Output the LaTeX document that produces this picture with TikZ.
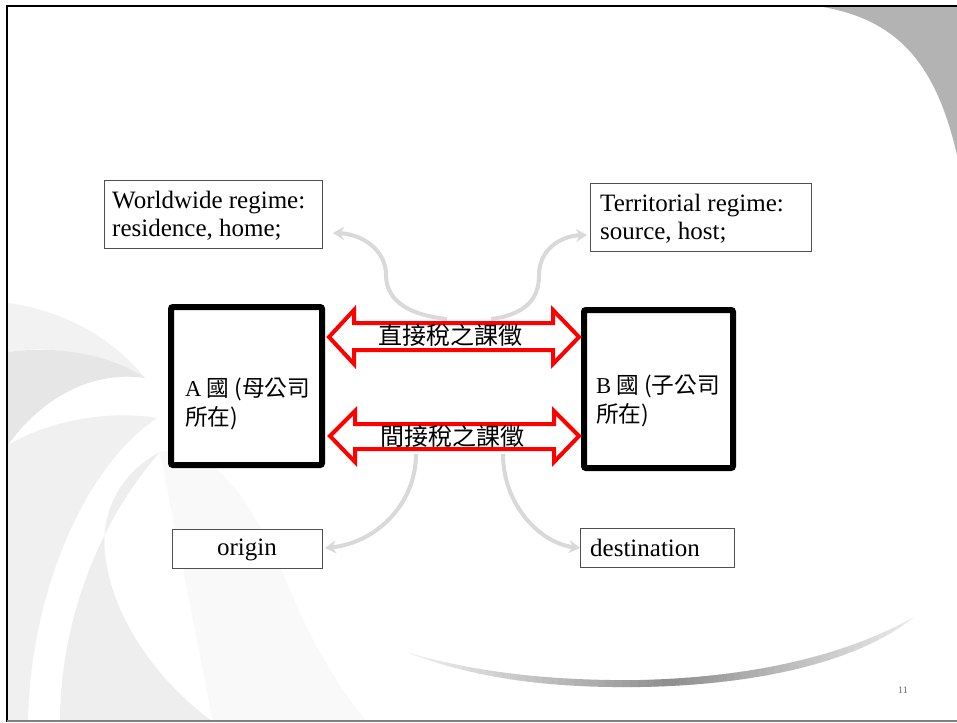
\documentclass[tikz,border=0pt]{standalone}
\usepackage{fontspec}
\setmainfont{Liberation Serif}
\newfontfamily\cjk{Noto Sans CJK TC}
\usetikzlibrary{arrows.meta}
\definecolor{arrowgray}{HTML}{D9D9D9}
\definecolor{cornergray}{HTML}{B3B3B3}
\definecolor{swA}{HTML}{F2F2F2}
\definecolor{swB}{HTML}{E6E6E6}
\definecolor{swC}{HTML}{F0F0F0}
\definecolor{swD}{HTML}{EEEEEE}
\definecolor{swE}{HTML}{F9F9F9}
\definecolor{boxline}{HTML}{505050}
\tikzset{
  thinbox/.style={draw=boxline, line width=1pt, inner sep=0pt, fill=white,
    font=\fontsize{25}{28}\selectfont},
  boxtext/.style={inner sep=0pt, align=left, anchor=base west,
    font=\fontsize{25}{28}\selectfont},
  country/.style={draw=black, line width=6pt, rounded corners=2pt, fill=white,
    minimum height=158pt, inner sep=0pt},
  countrytext/.style={inner sep=0pt, align=left, anchor=base west,
    font=\cjk\fontsize{22.7}{28.5}\selectfont},
  grayarrow/.style={draw=arrowgray, line width=4pt, -{Stealth[length=11pt,width=13pt]}},
  taxarrow/.style={draw=red, line width=4pt, fill=white, line join=miter},
  cjklabel/.style={font=\cjk\fontsize{24}{28}\selectfont, inner sep=0pt, anchor=base}
}
\begin{document}
\begin{tikzpicture}[x=1pt,y=-1pt]
\useasboundingbox (0,0) rectangle (957,722);
\fill[white] (0,0) rectangle (957,722);
% background swooshes
\fill[swA] (8,303) .. controls (60,310) and (110,335) .. (145,378)
  .. controls (100,352) and (50,345) .. (8,352) -- cycle;
\fill[swB] (8,352) .. controls (60,345) and (110,355) .. (145,378)
  .. controls (90,370) and (40,400) .. (8,445) -- cycle;
\fill[swC] (8,445) .. controls (50,420) and (110,410) .. (157,418)
  .. controls (80,470) and (30,600) .. (28,722) -- (8,722) -- cycle;
\fill[swE] (160,452) .. controls (220,440) and (260,520) .. (290,590)
  .. controls (310,640) and (340,690) .. (367,722) -- (213,722) -- cycle;
\fill[swD] (160,452) .. controls (100,520) and (60,620) .. (60,722) -- (213,722)
  .. controls (130,660) and (100,580) .. (105,530) .. controls (110,490) and (135,465) .. (160,452) -- cycle;
% bottom swoosh
\begin{scope}
  \clip (406,652) .. controls (480,681) and (560,688) .. (640,687)
    .. controls (760,685) and (860,661) .. (914,617)
    .. controls (850,653) and (760,677) .. (640,680)
    .. controls (560,681) and (480,674) .. (406,652) -- cycle;
  \foreach \i in {0,...,63} {
    \pgfmathsetmacro\xa{406+\i*8}
    \pgfmathsetmacro\g{max(0,40*(1-abs(\xa+4-670)/270))+4}
    \fill[black!\g] (\xa,600) rectangle (\xa+8.6,700);
  }
\end{scope}
\fill[cornergray] (817,6) .. controls (895,18) and (935,60) .. (957,155) -- (957,6) -- cycle;
% frame
\draw[line width=2.5pt] (7,722) -- (7,6) -- (957,6);
\draw[black!50, line width=1.5pt] (7,721) -- (957,721);

% regime boxes
\node[thinbox, minimum width=218pt, minimum height=68pt] (W) at (213,214) {};
\node[boxtext] (Wt) at (112,236) {Worldwide regime:\\residence, home;};
\node[thinbox, minimum width=221pt, minimum height=68pt] (T) at (700.5,217) {};
\node[boxtext] (Tt) at (600,239) {Territorial regime:\\source, host;};
\node[thinbox, minimum width=150pt, minimum height=39pt, text height=17pt, text depth=4pt] (O) at (247,548.5) {origin};
\node[thinbox, minimum width=154pt, minimum height=39.5pt] (D) at (657,548) {};
\node[boxtext] (Dt) at (590,556) {destination};

% country boxes
\node[country, minimum width=151pt] (A) at (246.5,386) {};
\node[country, minimum width=149pt] (B) at (658.5,389) {};
\node[countrytext] (At) at (185,425) {{\rmfamily A} 國 (母公司\\所在)};
\node[countrytext] (Bt) at (596,422) {{\rmfamily B} 國 (子公司\\所在)};

% tax arrows
\draw[taxarrow] (329,337) -- (354,310) -- (354,323) -- (553,323) -- (553,310) -- (579,337)
  -- (553,364) -- (553,350) -- (354,350) -- (354,364) -- cycle;
\draw[taxarrow] (330,436) -- (355,411) -- (355,424) -- (554,424) -- (554,411) -- (579,436)
  -- (554,462) -- (554,449) -- (355,449) -- (355,462) -- cycle;
\node[cjklabel] (direct) at (450,344) {直接稅之課徵};
\node[cjklabel] (indirect) at (452,445) {間接稅之課徵};

% gray connectors
\coordinate (wS) at (447,319);
\coordinate (tS) at (491,319);
\coordinate (oS) at (416,454);
\coordinate (dS) at (503,454);
\coordinate (wE) at (333,233);
\coordinate (tE) at (587,235);
\coordinate (oE) at (325,548);
\coordinate (dE) at (580,548);
\draw[grayarrow] (wS) .. controls (400,314) and (386,295) .. (386,275)
  .. controls (386,250) and (362,234) .. (wE);
\draw[grayarrow] (tS) .. controls (530,314) and (539,295) .. (539,275)
  .. controls (539,250) and (560,236) .. (tE);
\draw[grayarrow] (oS) .. controls (416,505) and (375,543) .. (oE);
\draw[grayarrow] (dS) .. controls (503,505) and (540,543) .. (dE);

% page number
\node[font=\fontsize{10}{12}\selectfont, text=black!60, inner sep=0pt, anchor=base] (pg) at (903,693) {11};
\end{tikzpicture}
\end{document}
